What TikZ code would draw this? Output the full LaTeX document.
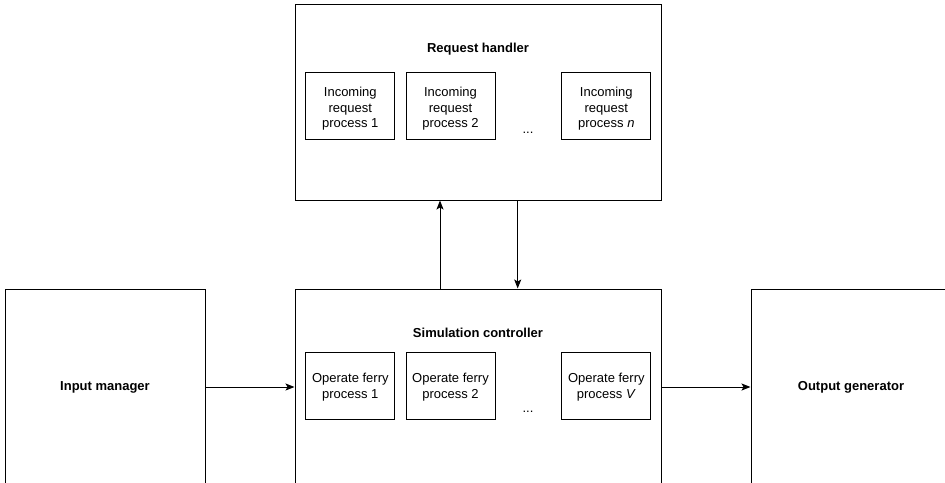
\documentclass[tikz,border=0pt]{standalone}
\usepackage{fontspec}
\setmainfont{Liberation Sans}
\usetikzlibrary{arrows.meta}
\begin{document}
\begin{tikzpicture}[x=1pt,y=-1pt,
  bigbox/.style={draw,line width=1pt,minimum width=366pt,minimum height=196pt,inner sep=0pt},
  sidebox/.style={draw,line width=1pt,minimum width=200pt,minimum height=196pt,inner sep=0pt,
    font=\fontsize{13}{15.5}\selectfont\bfseries},
  procbox/.style={draw,line width=1pt,minimum width=89pt,minimum height=66.5pt,inner sep=0pt},
  proctext/.style={align=center,inner sep=0pt,font=\fontsize{13}{15.6}\selectfont},
  title/.style={font=\fontsize{13}{15.5}\selectfont\bfseries,inner sep=0pt,anchor=base},
  dots/.style={font=\fontsize{13}{15.5}\selectfont,inner sep=0pt},
  flow/.style={line width=1pt,-{Stealth[length=9pt,width=7pt,inset=2pt]}}]
\useasboundingbox (0,0) rectangle (945,482);
\clip (0,0) rectangle (945,482);

% request handler with its incoming request processes
\node[bigbox] (rh) at (478,102) {};
\node[title] (rhtitle) at (478,52.3) {Request handler};
\node[procbox] (ir1) at (350.3,106) {};
\node[procbox] (ir2) at (450.5,106) {};
\node[procbox] (irn) at (606.3,106) {};
\node[proctext] (ir1t) at ([yshift=-3pt]ir1.center) {Incoming\\request\\process 1};
\node[proctext] (ir2t) at ([yshift=-3pt]ir2.center) {Incoming\\request\\process 2};
\node[proctext] (irnt) at ([yshift=-3pt]irn.center) {Incoming\\request\\process \textit{n}};
\node[dots] (irdots) at (528,132.5) {...};

% simulation controller with its ferry processes
\node[bigbox] (sc) at (478,387) {};
\node[title] (sctitle) at (478,337.3) {Simulation controller};
\node[procbox,minimum height=67pt] (of1) at (350.3,385.5) {};
\node[procbox,minimum height=67pt] (of2) at (450.5,385.5) {};
\node[procbox,minimum height=67pt] (ofv) at (606.3,385.5) {};
\node[proctext] (of1t) at ([yshift=-1.8pt]of1.center) {Operate ferry\\process 1};
\node[proctext] (of2t) at ([yshift=-1.8pt]of2.center) {Operate ferry\\process 2};
\node[proctext] (ofvt) at ([yshift=-1.8pt]ofv.center) {Operate ferry\\process \textit{V}};
\node[dots] (ofdots) at (528,411.5) {...};

% input and output stages
\node[sidebox] (im) at (105,387) {Input manager};
\node[sidebox] (og) at (851,387) {Output generator};

% connectors
\draw[flow] (sc.north -| 440,0) -- (rh.south -| 440,0);
\draw[flow] (rh.south -| 517.7,0) -- (sc.north -| 517.7,0);
\draw[flow] (im.east |- 0,387) -- (sc.west |- 0,387);
\draw[flow] (sc.east |- 0,387) -- (og.west |- 0,387);
\end{tikzpicture}
\end{document}
